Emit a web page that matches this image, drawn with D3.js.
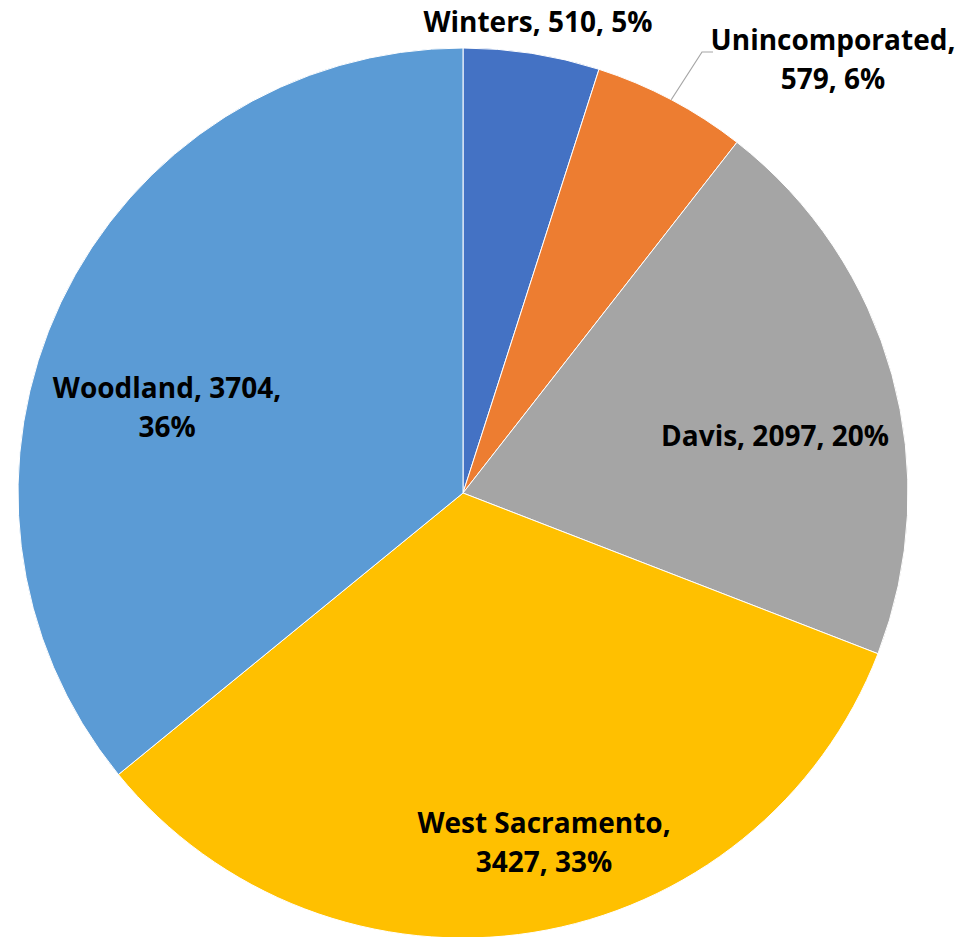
<!DOCTYPE html>
<html><head><meta charset="utf-8">
<script src="https://cdn.jsdelivr.net/npm/d3@7"></script>
<style>body{margin:0;background:#fff}svg{display:block}</style>
</head><body>
<svg id="c" width="975" height="937"></svg>
<script>
const categories = ["Winters", "Unincorporated", "Davis", "West Sacramento", "Woodland"];
const values = [510, 579, 2097, 3427, 3704];
const percents = ["5%", "6%", "20%", "33%", "36%"];
const colors = ["#4472C4", "#ED7D31", "#A5A5A5", "#FFC000", "#5B9BD5"];

const W = 975, H = 937, cx = 463, cy = 493, R = 445;
const svg = d3.select("#c");
const g = svg.append("g").attr("transform", `translate(${cx},${cy})`);
const data = categories.map((c, i) => ({name: c, value: values[i], pct: percents[i], color: colors[i]}));
const pie = d3.pie().sort(null).value(d => d.value);
const arc = d3.arc().innerRadius(0).outerRadius(R);
const arcs = pie(data);
g.selectAll("path").data(arcs).join("path")
  .attr("d", arc).attr("fill", d => d.data.color)
  .attr("stroke", "#fff").attr("stroke-width", 1);

// label layout (offsets from centre to baseline of first line)
const layout = {
  "Winters": {x: 75, y: -461, lines: d => [`${d.name}, ${d.value}, ${d.pct}`]},
  "Unincorporated": {x: 370, y: -443, lines: d => [`${d.name.replace("Unincorporated","Unincomporated")},`, `${d.value}, ${d.pct}`]},
  "Davis": {x: 312, y: -47, lines: d => [`${d.name}, ${d.value}, ${d.pct}`]},
  "West Sacramento": {x: 81, y: 340, lines: d => [`${d.name},`, `${d.value}, ${d.pct}`]},
  "Woodland": {x: -296, y: -95, lines: d => [`${d.name}, ${d.value},`, `${d.pct}`]}
};
const lh = 39;
arcs.forEach(a => {
  const L = layout[a.data.name];
  const lines = L.lines(a.data);
  const t = g.append("text").attr("text-anchor", "middle")
    .attr("font-family", "'Open Sans', sans-serif").attr("font-weight", 700)
    .attr("font-size", 28).attr("fill", "#000");
  lines.forEach((s, i) => {
    t.append("tspan").attr("x", L.x).attr("y", L.y + i * lh).text(s);
  });
});
// leader line for Unincorporated
const ua = arcs[1];
const mid = (ua.startAngle + ua.endAngle) / 2;
const p0 = [Math.sin(mid) * R, -Math.cos(mid) * R];
g.append("polyline")
  .attr("points", [p0, [239, -441], [250, -441]].map(p => p.join(",")).join(" "))
  .attr("fill", "none").attr("stroke", "#A6A6A6").attr("stroke-width", 1.2);
</script>
</body></html>
